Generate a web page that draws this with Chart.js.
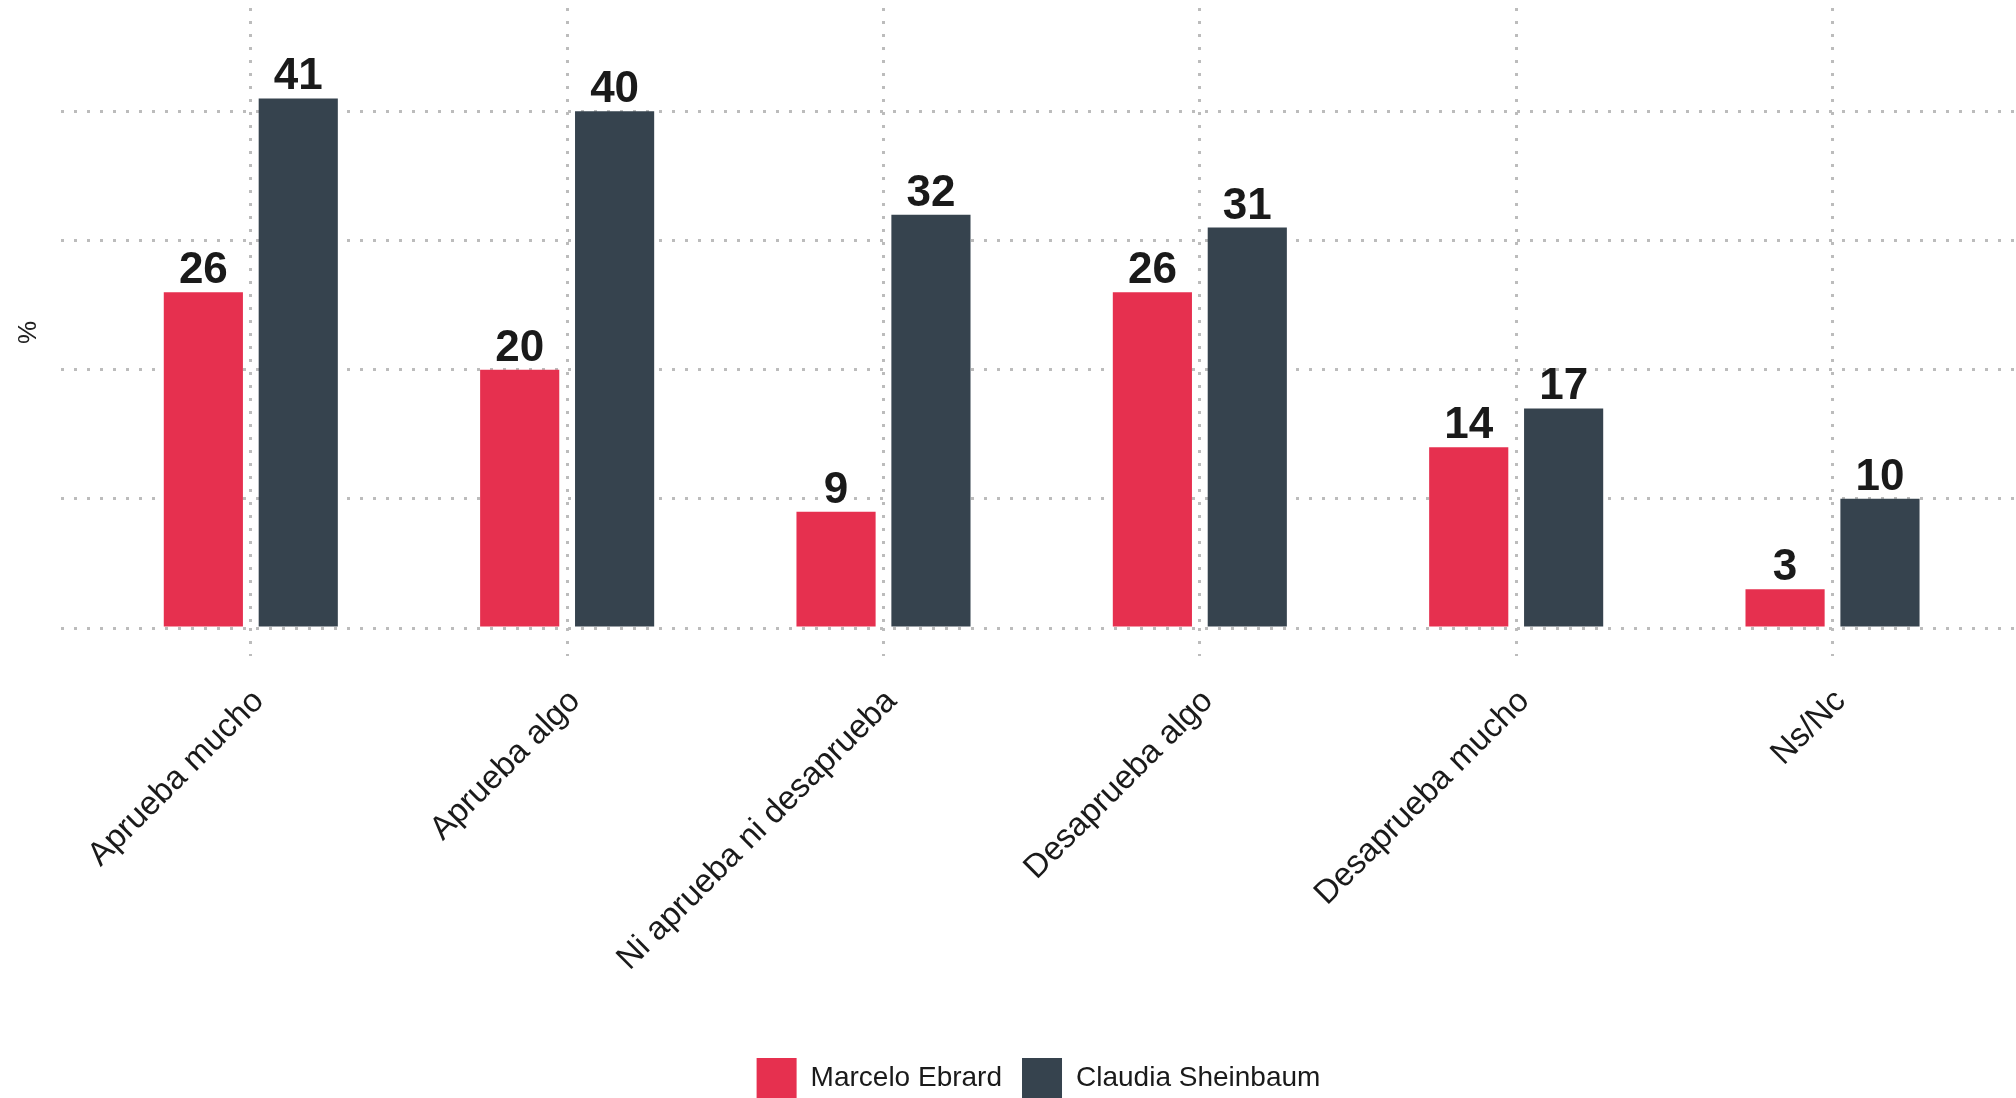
<!DOCTYPE html>
<html>
<head>
<meta charset="utf-8">
<script src="https://cdn.jsdelivr.net/npm/chart.js@4"></script>
<style>
  html, body { margin: 0; padding: 0; background: #fff; overflow: hidden; }
  #wrap { width: 2016px; height: 1098px; }
</style>
</head>
<body>
<div id="wrap"><canvas id="grafico"></canvas></div>
<script>
const categorias = ["Aprueba mucho", "Aprueba algo", "Ni aprueba ni desaprueba", "Desaprueba algo", "Desaprueba mucho", "Ns/Nc"];
const ebrard = [26, 20, 9, 26, 14, 3];
const sheinbaum = [41, 40, 32, 31, 17, 10];
const yTicks = [0, 10, 20, 30, 40];

const fuente = '"Liberation Sans", Arial, sans-serif';
const gris = "#bcbcbc";

// etiquetas de valor encima de cada barra
const etiquetas = {
  id: "etiquetas",
  afterDatasetsDraw(chart) {
    const ctx = chart.ctx;
    ctx.save();
    ctx.font = "bold 44px " + fuente;
    ctx.fillStyle = "#1a1a1a";
    ctx.textAlign = "center";
    ctx.textBaseline = "alphabetic";
    chart.data.datasets.forEach((ds, i) => {
      chart.getDatasetMeta(i).data.forEach((bar, j) => {
        ctx.fillText(ds.data[j].y, bar.x, bar.y - 9);
      });
    });
    ctx.restore();
  }
};

const ctx = document.getElementById("grafico").getContext("2d");
const grafico = new Chart(ctx, {
  type: "bar",
  data: {
    datasets: [
      {
        label: "Marcelo Ebrard",
        backgroundColor: "#e6304f",
        data: ebrard.map((v, i) => ({ x: i, y: v })),
      },
      {
        label: "Claudia Sheinbaum",
        backgroundColor: "#36434e",
        data: sheinbaum.map((v, i) => ({ x: i, y: v })),
      },
    ],
  },
  options: {
    responsive: true,
    maintainAspectRatio: false,
    animation: false,
    categoryPercentage: 0.6,
    barPercentage: 0.834,
    layout: { padding: { top: 8, left: 0, right: 0, bottom: -10 } },
    plugins: {
      tooltip: { enabled: false },
      legend: {
        position: "bottom",
        fullSize: false,
        labels: {
          boxWidth: 40,
          boxHeight: 40,
          padding: 20,
          color: "#1a1a1a",
          font: { family: fuente, size: 28 },
        },
      },
    },
    scales: {
      x: {
        type: "linear",
        min: -0.6,
        max: 5.58,
        offset: false,
        afterFit: (s) => { s.height = 410; },
        border: { display: false, dash: [3, 10] },
        grid: {
          offset: false,
          color: gris,
          lineWidth: 3,
          tickLength: 28,
          tickColor: gris,
          tickWidth: 3,
          tickBorderDash: [3, 10],
        },
        ticks: {
          stepSize: 1,
          includeBounds: false,
          autoSkip: false,
          minRotation: 45,
          maxRotation: 45,
          padding: 26,
          labelOffset: 8,
          color: "#1a1a1a",
          font: { family: fuente, size: 33 },
          callback: (v) => (Number.isInteger(v) ? categorias[v] : ""),
        },
      },
      y: {
        min: 0,
        max: 48,
        afterFit: (s) => { s.width = 61; },
        afterBuildTicks: (s) => { s.ticks = yTicks.map((v) => ({ value: v })); },
        border: { display: false, dash: [3, 10] },
        grid: { color: gris, lineWidth: 3, drawTicks: false },
        ticks: { display: false },
        title: {
          display: true,
          text: "%    ",
          color: "#222",
          font: { family: fuente, size: 26 },
          padding: { top: 13, bottom: 0 },
        },
      },
    },
  },
  plugins: [etiquetas],
});
</script>
</body>
</html>
